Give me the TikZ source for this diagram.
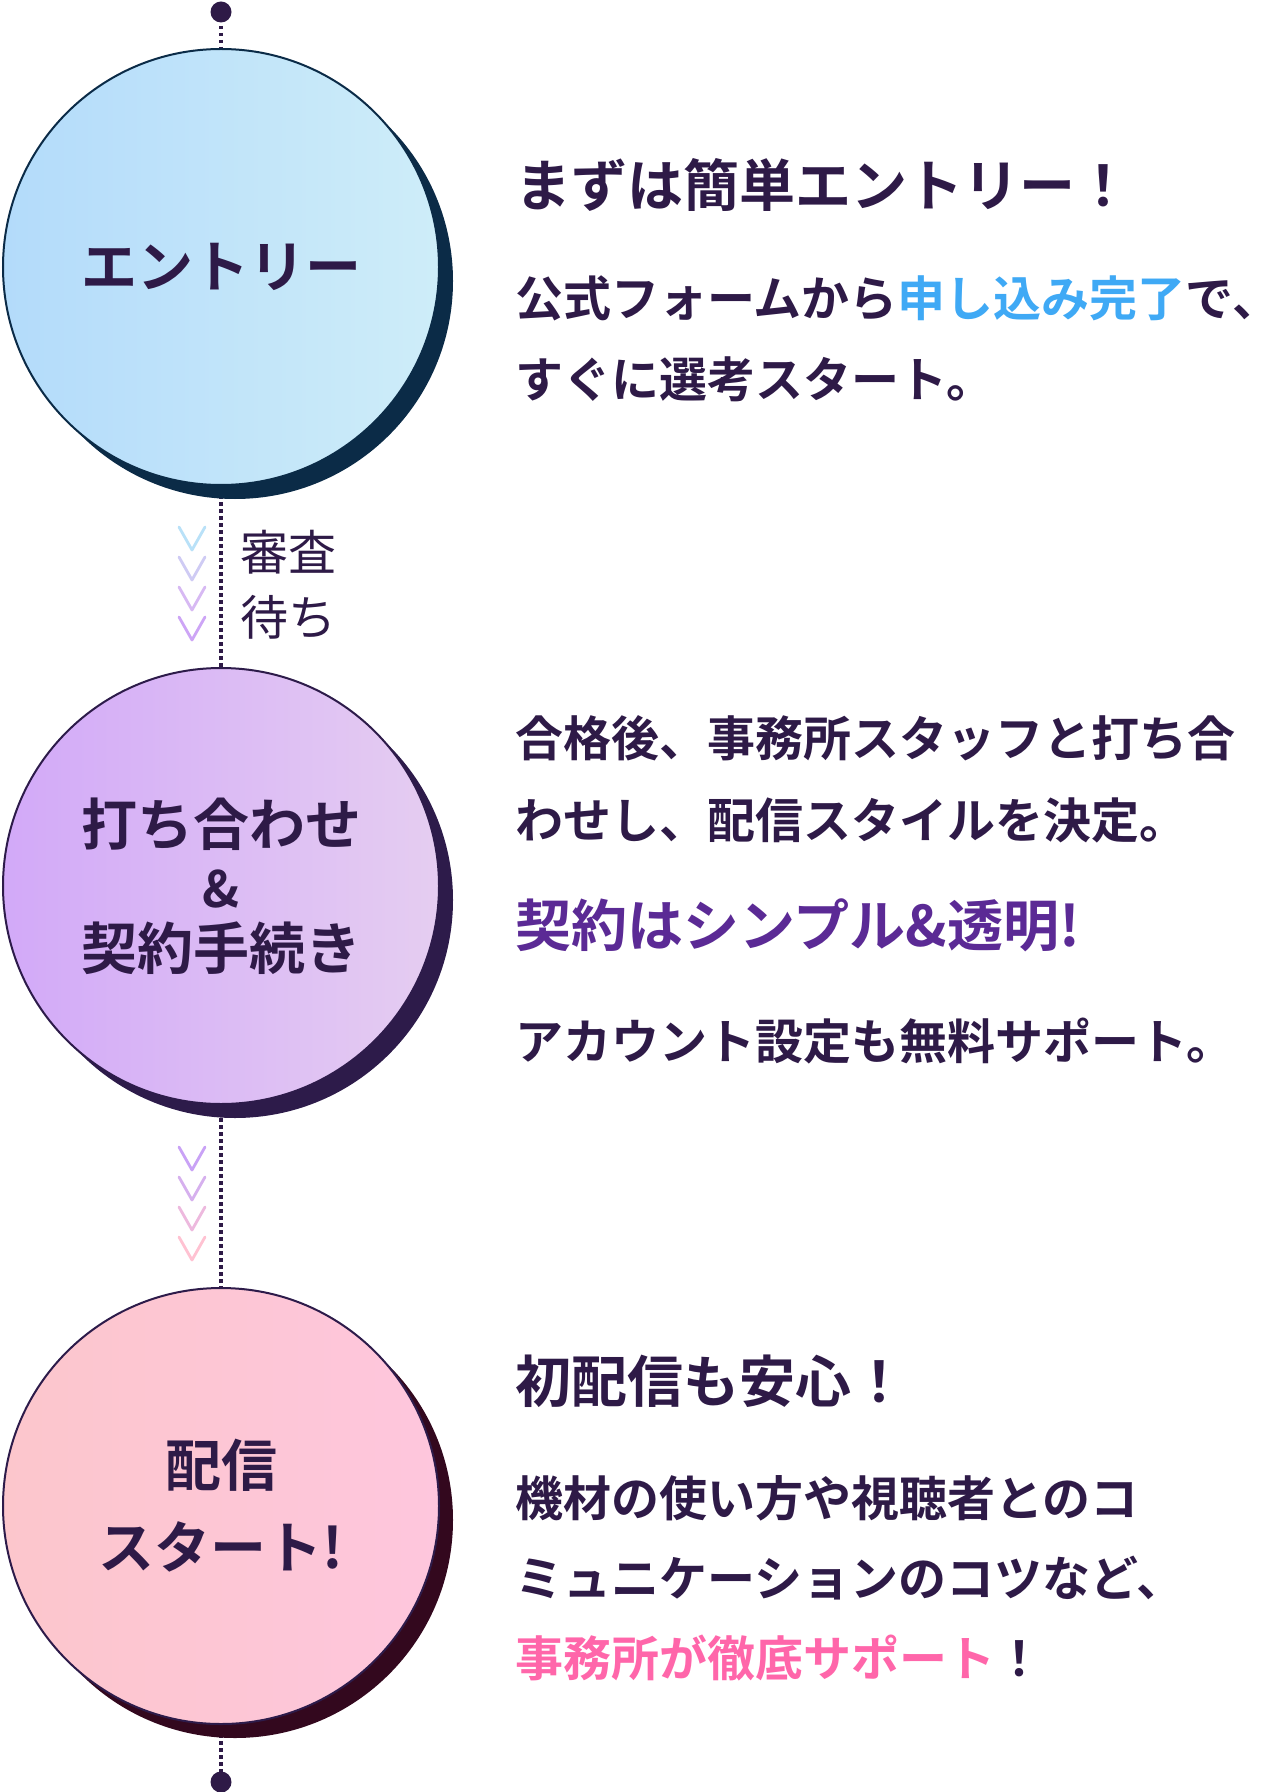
\documentclass[tikz,border=0pt]{standalone}
\usepackage{fontspec}
\newfontfamily\jpbold{Noto Sans CJK JP Bold}
\newfontfamily\jpreg{Noto Sans CJK JP}
\usepackage{xcolor}
\usetikzlibrary{shadows,backgrounds}

\definecolor{ink}{HTML}{2E1A47}
\definecolor{hlblue}{HTML}{3FA9F5}
\definecolor{hlpurple}{HTML}{5B2A95}
\definecolor{hlpink}{HTML}{FF66AA}
% circle colours
\definecolor{entryL}{HTML}{B3DBFA}
\definecolor{entryR}{HTML}{CEEDF9}
\definecolor{entryS}{HTML}{0B2B47}
\definecolor{meetL}{HTML}{D2A9F8}
\definecolor{meetR}{HTML}{E5CDF1}
\definecolor{meetS}{HTML}{2D1B4A}
\definecolor{startL}{HTML}{FCC6CC}
\definecolor{startR}{HTML}{FEC6DD}
\definecolor{startS}{HTML}{33081E}
% chevron colours
\definecolor{chA}{HTML}{B9E1F8}
\definecolor{chB}{HTML}{CFCBF4}
\definecolor{chC}{HTML}{D7B9F3}
\definecolor{chD}{HTML}{CDA5F6}
\definecolor{chE}{HTML}{C9A2F6}
\definecolor{chF}{HTML}{D6B0EE}
\definecolor{chG}{HTML}{EDB9DE}
\definecolor{chH}{HTML}{FFC2D2}

\begin{document}
\begin{tikzpicture}[
    x=0.5pt, y=-0.5pt,
    stepcircle/.style={circle, minimum size=218pt, inner sep=0pt, line width=1pt, align=center, text=ink, font=\jpbold\fontsize{28}{31}\selectfont},
    dotline/.style={draw=ink, line width=1.8pt, dash pattern=on 1.75pt off 1.75pt},
    enddot/.style={circle, fill=ink, inner sep=0pt, minimum size=10.5pt},
    head/.style={anchor=base west, inner sep=0pt, text=ink, font=\jpbold\fontsize{28}{34}\selectfont},
    body/.style={anchor=base west, inner sep=0pt, text=ink, font=\jpbold\fontsize{24}{30}\selectfont},
    wait/.style={anchor=base west, inner sep=0pt, text=ink, font=\jpreg\fontsize{24}{30}\selectfont},
    chev/.style={line width=1.4pt, line cap=round, line join=round}
]
\useasboundingbox (0,0) rectangle (1280,1792);

% Timeline nodes
\node[enddot] (topdot) at (221,12) {};
\node[stepcircle, draw=entryS, left color=entryL, right color=entryR,
      drop shadow={shadow xshift=7pt, shadow yshift=-7pt, opacity=1, fill=entryS}]
      (entry) at (221,267) {エントリー};
\node[stepcircle, draw=meetS, left color=meetL, right color=meetR,
      drop shadow={shadow xshift=7pt, shadow yshift=-7pt, opacity=1, fill=meetS}]
      (meeting) at (221,886) {打ち合わせ\\{\fontsize{25}{28}\selectfont\&}\\契約手続き};
\node[stepcircle, draw=meetS, left color=startL, right color=startR,
      drop shadow={shadow xshift=7pt, shadow yshift=-7pt, opacity=1, fill=startS}]
      (start) at (221,1506) {配信\\[10pt]スタート!};
\node[enddot] (enddot) at (221,1782) {};

% Dotted line behind everything
\begin{scope}[on background layer]
\fill[white] (0,0) rectangle (1280,1792);
\draw[dotline] (topdot.center) -- (entry.center) -- (meeting.center) -- (start.center) -- (enddot.center);
\end{scope}

% Chevrons
\foreach \y/\col in {527/chA, 557/chB, 587/chC, 617/chD, 1147/chE, 1177/chF, 1207/chG, 1237/chH}
    \draw[chev, \col] (179,\y) -- (192,\y+23) -- (205,\y);

\node[wait] (wait1) at (240,570) {審査};
\node[wait] (wait2) at (240,635) {待ち};

% Step 1 text
\node[head] (head1) at (515,207) {まずは簡単エントリー！};
\node[body] (body1a) at (515,317) {公式フォームから\textcolor{hlblue}{申し込み完了}で、};
\node[body] (body1b) at (515,397) {すぐに選考スタート。};

% Step 2 text
\node[body] (body2a) at (515,756) {合格後、事務所スタッフと打ち合};
\node[body] (body2b) at (515,838) {わせし、配信スタイルを決定。};
\node[head, text=hlpurple] (head2) at (515,946) {契約はシンプル\&透明!};
\node[body] (body2c) at (515,1059) {アカウント設定も無料サポート。};

% Step 3 text
\node[head] (head3) at (515,1402) {初配信も安心！};
\node[body] (body3a) at (515,1516) {機材の使い方や視聴者とのコ};
\node[body] (body3b) at (515,1596) {ミュニケーションのコツなど、};
\node[body] (body3c) at (515,1676) {\textcolor{hlpink}{事務所が徹底サポート}！};

\end{tikzpicture}
\end{document}
